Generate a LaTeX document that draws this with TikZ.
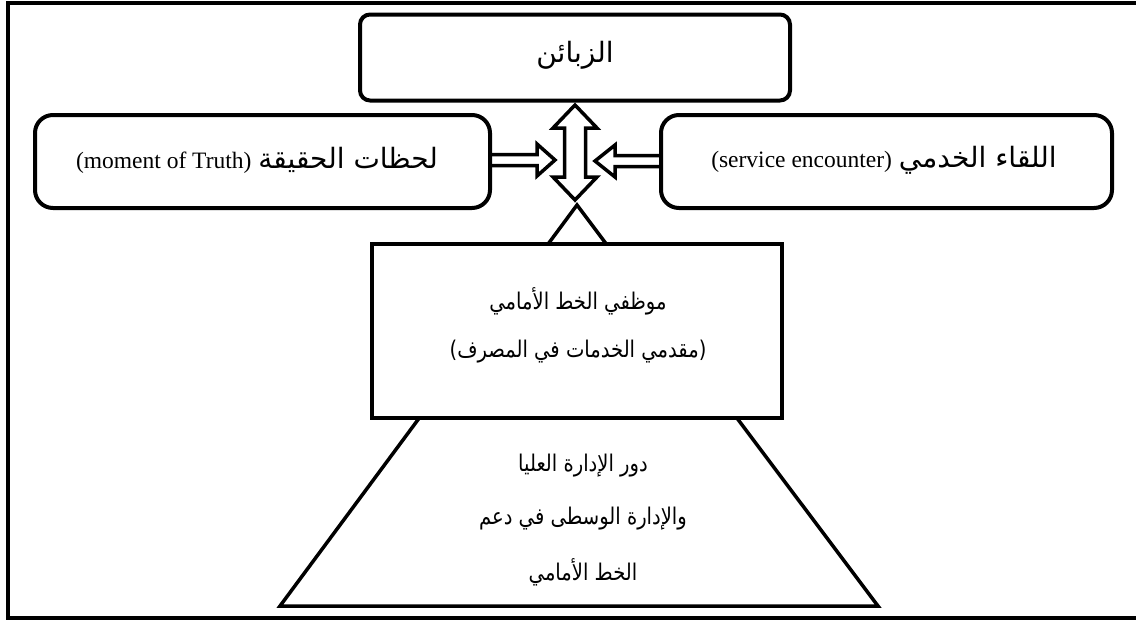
\documentclass[tikz,border=0pt]{standalone}
\usepackage{fontspec}
\setmainfont{Liberation Serif}
\newfontfamily\ar[Script=Arabic]{DejaVu Sans}
\newfontfamily\arnarrow[Script=Arabic, FakeStretch=0.85]{DejaVu Sans}
\newfontfamily\plainsans[FakeStretch=0.85]{DejaVu Sans}
\TeXXeTstate=1
\newcommand{\arbig}{\ar\fontsize{28}{32}\selectfont}
\newcommand{\armid}{\arnarrow\fontsize{23}{27}\selectfont}
\begin{document}
\begin{tikzpicture}[x=1pt,y=-1pt,
  frame/.style={line width=4pt},
  box/.style={draw, line width=4pt, fill=white, rounded corners=#1, inner sep=0pt},
  blk/.style={draw, line width=3.5pt, fill=white, line join=miter},
  lbl/.style={font=\fontsize{23.5}{27}\selectfont, inner sep=0pt},
  arb/.style={font=\arbig, inner sep=0pt},
  arm/.style={font=\armid, inner sep=0pt}]
\useasboundingbox (0,0) rectangle (1136,622);
% outer frame
\draw[frame] (8,3) rectangle (1145,618);

% pyramid behind the staff box
\draw[line width=3.5pt, line join=miter] (577,205) -- (878,606) -- (280,606) -- cycle;

% block arrows
\draw[blk] (575,105) -- (597,128) -- (585.5,128) -- (585.5,177) -- (597,177) -- (575,200)
  -- (553,177) -- (564.5,177) -- (564.5,128) -- (553,128) -- cycle;
\draw[blk] (480,154.5) -- (537,154.5) -- (537,144) -- (555,160) -- (537,176) -- (537,165.5) -- (480,165.5) -- cycle;
\draw[blk] (672,155.5) -- (615,155.5) -- (615,145) -- (595,161) -- (615,177) -- (615,166.5) -- (672,166.5) -- cycle;

% boxes
\node[box=10pt, minimum width=430pt, minimum height=86pt] (cust) at (575,57.5) {};
\node[box=18pt, minimum width=455pt, minimum height=93pt] (truth) at (262.5,161.5) {};
\node[box=18pt, minimum width=451pt, minimum height=93pt] (enc) at (886.5,161.5) {};
\node[draw, line width=4pt, fill=white, minimum width=410pt, minimum height=174pt, inner sep=0pt] (staff) at (577,331) {};

% labels
\node[arb] (custl) at (575,55) {\beginR الزبائن\endR};
\node[lbl] (truthl) at (257,160) {(moment of Truth)\hspace{7pt}{\arbig\beginR لحظات الحقيقة\endR}};
\node[lbl] (encl) at (884,160) {(service encounter)\hspace{7pt}{\arbig\beginR اللقاء الخدمي\endR}};
\node[arm] (staff1) at (578,301) {\beginR موظفي الخط الأمامي\endR};
\node[arm] (staff2) at (578,352) {{\plainsans(}\beginR مقدمي الخدمات في المصرف\endR{\plainsans)}};
\node[arm] (top1) at (583,466) {\beginR دور الإدارة العليا\endR};
\node[arm] (top2) at (583,519) {\beginR والإدارة الوسطى في دعم\endR};
\node[arm] (top3) at (583,572) {\beginR الخط الأمامي\endR};
\end{tikzpicture}
\end{document}
